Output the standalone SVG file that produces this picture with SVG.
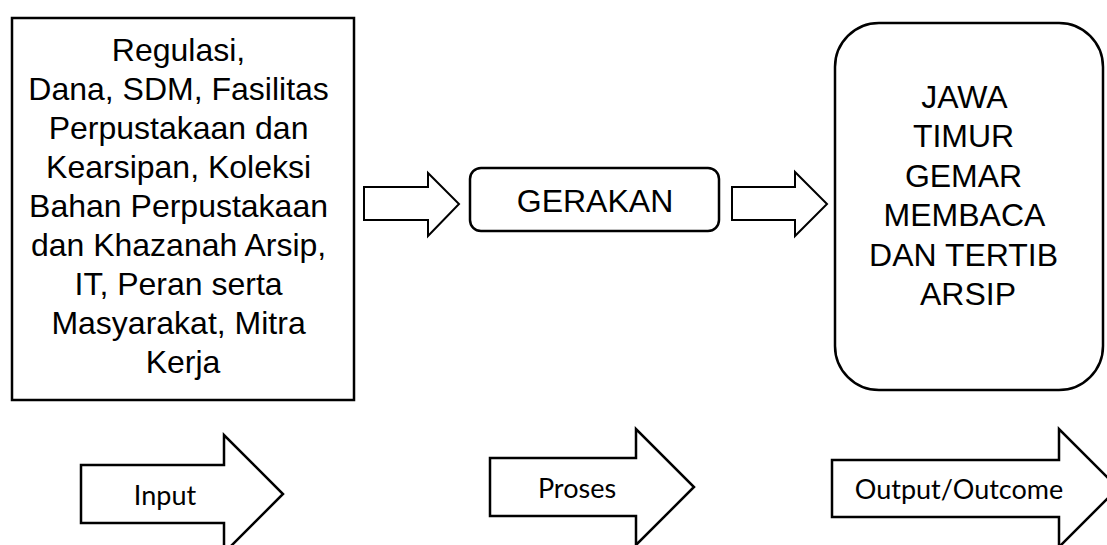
<svg xmlns="http://www.w3.org/2000/svg" width="1107" height="545" viewBox="0 0 1107 545">
<style>
.box{fill:#fff;stroke:#000;stroke-width:2.5}
.blk{fill:#fff;stroke:#000;stroke-width:2;stroke-linejoin:miter}
.big{fill:#fff;stroke:#000;stroke-width:2.5;stroke-linejoin:miter}
.t{font-family:"Liberation Sans",Arial,sans-serif;font-size:32px;fill:#000;text-anchor:middle}
.c{font-family:Lato,"Open Sans",sans-serif;font-size:27px;fill:#000;text-anchor:middle}
</style>
<rect width="1107" height="545" fill="#fff"/>
<g id="input-box">
<rect class="box" x="12" y="18" width="342" height="382"/>
<text class="t" x="183">
<tspan x="183" y="61">Regulasi,</tspan>
<tspan x="183" y="100">Dana, SDM, Fasilitas</tspan>
<tspan x="183" y="139">Perpustakaan dan</tspan>
<tspan x="183" y="178">Kearsipan, Koleksi</tspan>
<tspan x="183" y="217">Bahan Perpustakaan</tspan>
<tspan x="183" y="256">dan Khazanah Arsip,</tspan>
<tspan x="183" y="295">IT, Peran serta</tspan>
<tspan x="183" y="334">Masyarakat, Mitra</tspan>
<tspan x="183" y="373">Kerja</tspan>
</text>
</g>
<g id="gerakan">
<rect class="box" x="470" y="168" width="249" height="63" rx="11"/>
<text class="t" x="595" y="212">GERAKAN</text>
</g>
<g id="output-box">
<rect class="box" x="835" y="23" width="268" height="367" rx="44"/>
<text class="t">
<tspan x="968" y="108">JAWA</tspan>
<tspan x="968" y="147">TIMUR</tspan>
<tspan x="968" y="187">GEMAR</tspan>
<tspan x="968" y="226">MEMBACA</tspan>
<tspan x="968" y="266">DAN TERTIB</tspan>
<tspan x="968" y="305">ARSIP</tspan>
</text>
</g>
<g id="connectors">
<polygon class="blk" points="364,187 428,187 428,173 459,204 428,236 428,220 364,220"/>
<polygon class="blk" points="732,187 795,187 795,172 827,204 795,236 795,220 732,220"/>
</g>
<g id="label-input">
<polygon class="big" points="81,465 224,465 224,435 283,494 224,553 224,523 81,523"/>
<text class="c" x="165" y="505">Input</text>
</g>
<g id="label-proses">
<polygon class="big" points="490,458 636,458 636,429 694,487 636,545 636,516 490,516"/>
<text class="c" x="577" y="498">Proses</text>
</g>
<g id="label-output">
<polygon class="big" points="832,460 1059,460 1059,429 1118,488 1059,547 1059,517 832,517"/>
<text class="c" x="959" y="499">Output/Outcome</text>
</g>
</svg>
